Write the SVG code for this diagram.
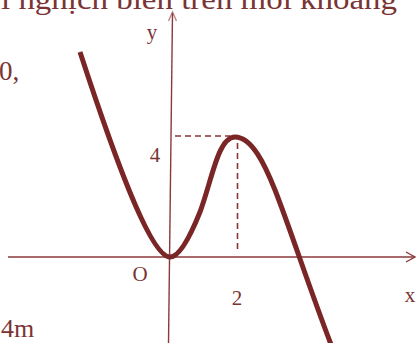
<svg xmlns="http://www.w3.org/2000/svg" width="416" height="343" viewBox="0 0 416 343">
  <style>
    .txt { font-family: "Liberation Serif", "Times New Roman", serif; fill: #7a3434; }
    .axis { stroke: #8a3a3a; stroke-width: 1.4; fill: none; }
    .dash { stroke: #8a3434; stroke-width: 1.6; stroke-dasharray: 6 4; fill: none; }
    .curve { stroke: #7a2626; stroke-width: 5; fill: none; stroke-linejoin: round; }
  </style>
  <rect width="416" height="343" fill="#ffffff"/>
  <g id="page-text">
    <text class="txt" x="1" y="9" font-size="30" textLength="396" lengthAdjust="spacingAndGlyphs">i nghịch biến trên mỗi khoảng</text>
    <text class="txt" x="-1" y="80" font-size="27">0,</text>
    <text class="txt" x="1" y="337" font-size="26">4m</text>
  </g>
  <g id="axes">
    <line class="axis" x1="8" y1="257" x2="414" y2="257"/>
    <polyline class="axis" points="406,252 415,257 406,262"/>
    <line class="axis" x1="172.5" y1="13" x2="168.5" y2="343"/>
    <polyline class="axis" points="168.5,21 172.5,12 176.5,21" stroke-opacity="0.6"/>
  </g>
  <g id="guides">
    <line class="dash" x1="175" y1="136" x2="230" y2="136"/>
    <line class="dash" x1="237.5" y1="143" x2="237.5" y2="252"/>
  </g>
  <g id="labels">
    <text class="txt" x="152" y="39" font-size="21" text-anchor="middle">y</text>
    <text class="txt" x="155" y="162" font-size="21" text-anchor="middle">4</text>
    <text class="txt" x="140" y="281" font-size="21" text-anchor="middle">O</text>
    <text class="txt" x="237" y="305" font-size="21" text-anchor="middle">2</text>
    <text class="txt" x="410" y="302" font-size="21" text-anchor="middle">x</text>
  </g>
  <g id="graph">
    <path class="curve" d="M80,52 C112,150 150,257 170,257 C180,257 192,232 200,212 C212,180 218,137 235,137 C252,137 265,165 275,190 C290,228 310,290 332,347"/>
  </g>
</svg>
